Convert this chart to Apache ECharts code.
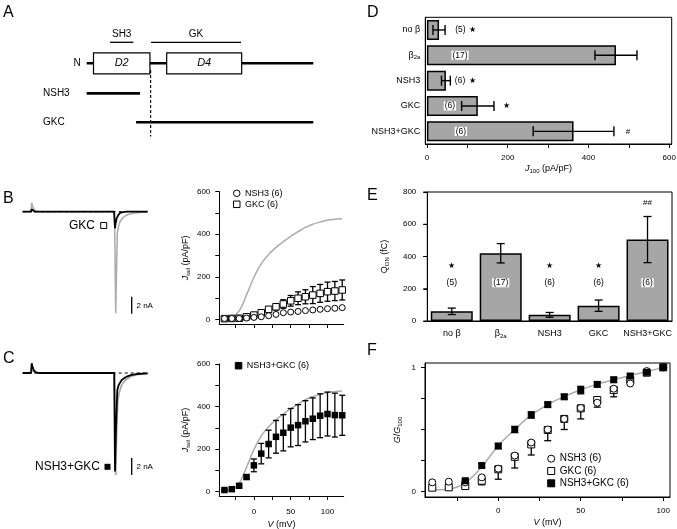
<!DOCTYPE html>
<html>
<head>
<meta charset="utf-8">
<script src="https://cdn.jsdelivr.net/npm/echarts@6.0.0/dist/echarts.min.js"></script>
<style>
html,body{margin:0;padding:0;background:#fff;}
#chart{width:677px;height:529px;}
</style>
</head>
<body>
<div id="chart"></div>
<script>
// ================= DATA =================
// Panel A: domain map (arbitrary sequence units, 0-100)
const domainNames = ['D2', 'D4'];
const domainStart = [3, 35.3];
const domainEnd = [27.9, 68.4];
const motifNames = ['SH3', 'GK'];
const motifStart = [10.3, 28.4];
const motifEnd = [20.6, 68.1];
const constructNames = ['NSH3', 'GKC'];
const constructStart = [0, 21.8];
const constructEnd = [23.5, 100];
const proteinLength = 100;
const cutSite = 28.2;

// Panels B, C: current traces (time in ms, current in nA)
const bGrayTime = [0, 8.3, 9, 9.8, 11, 13, 16, 91.8, 93, 94, 94.6, 95.8, 97.3, 99.5, 102.3, 106, 110.6, 117, 125];
const bGrayCurrent = [0, 0, 1.06, 0.7, 0.35, 0.1, 0, 0, -11.95, -6, -2.55, -1.7, -1.18, -0.8, -0.5, -0.3, -0.19, -0.1, -0.04];
const bBlackTime = [0, 8.3, 9, 10, 12, 91.4, 92.3, 93, 94, 95.5, 97.3, 100, 104, 125];
const bBlackCurrent = [0, 0, 0.3, 0.15, 0, 0, -1.95, -1.3, -0.78, -0.4, -0.15, -0.05, 0, 0];
const cGrayTime = [0, 8.3, 9, 10, 12, 91.8, 93, 94, 95, 96.5, 99, 102, 104, 108, 114, 125];
const cGrayCurrent = [0, 0, 0.4, 0.2, 0, 0, -12, -6.5, -3.4, -2.3, -1.4, -0.9, -0.7, -0.4, -0.2, -0.05];
const cBlackTime = [0, 8.3, 9, 9.8, 11, 13, 16, 91.5, 92.3, 93.2, 94, 94.6, 96, 99, 101.5, 104, 108, 114, 125];
const cBlackCurrent = [0, 0, 1.14, 0.75, 0.35, 0.1, 0, 0, -11.6, -7, -3.96, -2.0, -1.4, -0.82, -0.6, -0.43, -0.25, -0.12, -0.04];
const zeroTime = [0, 125.6];
const scaleBarTime = 109;
const scaleBarNA = [-10, -12];

// Panels B, C: tail current density vs voltage
const voltage = [-40, -30, -20, -10, 0, 10, 20, 30, 40, 50, 60, 70, 80, 90, 100, 110, 120];
const beta2aJtail = [5, 10, 40, 115, 198, 262, 305, 338, 365, 390, 412, 432, 447, 457, 466, 470, 473];
const nsh3Jtail = [4, 4, 4, 6, 9, 12, 17, 23, 31, 34, 37, 41, 44, 47, 50, 52, 55];
const gkcJtail = [3, 4, 5, 12, 20, 31, 47, 59, 72, 87, 99, 106, 114, 122, 130, 133, 138];
const gkcJtailErr = [1, 1, 2, 3, 5, 8, 12, 15, 20, 25, 30, 33, 40, 42, 45, 45, 47];
const nsh3gkcJtail = [8, 12, 28, 69, 124, 179, 224, 258, 277, 301, 313, 331, 343, 357, 365, 360, 359];
const nsh3gkcJtailErr = [3, 4, 6, 10, 30, 48, 65, 77, 85, 90, 96, 97, 98, 103, 103, 103, 94];

// Panel D: J100
const groups = ['no β', 'β2a', 'NSH3', 'GKC', 'NSH3+GKC'];
const j100Mean = [30, 468, 47, 126, 363];
const j100Err = [15, 52, 11, 40, 100];
const cellCounts = ['(5)', '(17)', '(6)', '(6)', '(6)'];
const dSignif = ['★', '', '★', '★', '#'];

// Panel E: Q_ON
const qonMean = [60, 420, 38, 95, 505];
const qonErr = [20, 60, 15, 35, 143];
const eSignif = ['★', '', '★', '★', '##'];

// Panel F: normalized conductance
const fVoltage = [-40, -30, -20, -10, 0, 10, 20, 30, 40, 50, 60, 70, 80, 90, 100];
const beta2aG = [0.015, 0.02, 0.07, 0.2, 0.37, 0.5, 0.615, 0.70, 0.765, 0.82, 0.865, 0.90, 0.935, 0.965, 1.0];
const nsh3G = [0.075, 0.08, 0.075, 0.115, 0.185, 0.29, 0.395, 0.50, 0.585, 0.673, 0.715, 0.828, 0.87, 0.97, 1.0];
const gkcG = [0.032, 0.035, 0.045, 0.088, 0.18, 0.28, 0.38, 0.496, 0.585, 0.67, 0.737, 0.817, 0.898, 0.957, 1.0];
const gkcGErr = [0.01, 0.01, 0.01, 0.033, 0.08, 0.09, 0.085, 0.086, 0.085, 0.085, 0.057, 0.054, 0.02, 0.01, 0];
const nsh3gkcG = [null, null, 0.088, 0.21, 0.367, 0.50, 0.617, 0.70, 0.763, 0.817, 0.863, 0.90, 0.93, 0.96, 1.0];
const nsh3gkcGErr = [0, 0, 0.01, 0.015, 0.02, 0.025, 0.025, 0.02, 0.02, 0.03, 0.02, 0.02, 0.02, 0.01, 0];

// Tick values
const ivTicksX = [-25, 0, 25, 50, 75, 100];
const ivLabelsX = [0, 50, 100];
const jTicksY = [0, 100, 200, 300, 400, 500, 600];
const jLabelsY = [0, 200, 400, 600];
const dTicksX = [0, 100, 200, 300, 400, 500, 600];
const dLabelsX = [0, 200, 400, 600];
const eTickStep = 200;
const eMax = 800;
const eLabelsY = [0, 200, 400, 600, 800];
const fTicksY = [0, 0.25, 0.5, 0.75, 1];
const fLabelsY = [0, 1];

// ================= STYLE =================
const FONT = '"Liberation Sans", Arial, Helvetica, sans-serif';
const BAR_GRAY = '#a6a6a6';
const CURVE_GRAY = '#ababab';
const RICH = {
  i: {fontStyle: 'italic', fontSize: 9, fontFamily: FONT, color: '#000', lineHeight: 11},
  n: {fontSize: 9, fontFamily: FONT, color: '#000', lineHeight: 11},
  s: {fontSize: 6, fontFamily: FONT, color: '#000', lineHeight: 5, verticalAlign: 'bottom'}
};
const zip = (a, b) => a.map((v, i) => [v, b[i]]);

const chart = echarts.init(document.getElementById('chart'), null, {renderer: 'canvas'});

function grid(left, top, width, height, box) {
  const g = {left, top, width, height, containLabel: false, outerBoundsMode: 'none'};
  if (box) { g.show = true; g.borderColor = '#000'; g.borderWidth = 1; g.backgroundColor = 'transparent'; }
  return g;
}
function hiddenAxis(gi, min, max, inverse) {
  return {type: 'value', gridIndex: gi, min, max, show: false, inverse: !!inverse, splitLine: {show: false}};
}
function valueAxis(gi, min, max, ticks, labels, o) {
  o = o || {};
  return {
    type: 'value', gridIndex: gi, min, max, position: o.position,
    name: o.name || '', nameLocation: 'middle', nameGap: o.nameGap || 20, nameMoveOverlap: false,
    nameTextStyle: {fontSize: 9, fontFamily: FONT, color: '#000', rich: RICH},
    axisLine: {show: true, onZero: false, lineStyle: {color: '#000', width: 1}},
    axisTick: {show: true, length: 4, customValues: ticks.slice(), lineStyle: {color: '#000', width: 1}},
    axisLabel: {show: labels.length > 0, customValues: labels.slice(), hideOverlap: false, showMinLabel: true, showMaxLabel: true,
                color: '#000', fontSize: 8, fontFamily: FONT, margin: o.margin || 8},
    splitLine: {show: false}
  };
}
function categoryAxis(gi, o) {
  return {
    type: 'category', gridIndex: gi, data: groups, inverse: !!o.inverse, position: o.position,
    axisLine: {show: true, onZero: false, lineStyle: {color: '#000', width: 1}},
    axisTick: {show: false},
    axisLabel: {
      interval: 0, hideOverlap: false,
      color: '#000', fontSize: 9, fontFamily: FONT, margin: o.margin, rich: RICH,
      formatter: v => v === 'β2a' ? '{n|β}{s|2a}' : '{n|' + v + '}'
    },
    splitLine: {show: false}
  };
}

function vErr(ai, xs, ys, es, capHalf, lowerOnly, z) {
  const data = [];
  xs.forEach((x, i) => { if (ys[i] != null) data.push([x, ys[i], es[i]]); });
  return {
    type: 'custom', xAxisIndex: ai, yAxisIndex: ai, z: z || 2, silent: true,
    encode: {x: 0, y: 1}, data,
    renderItem: (p, api) => {
      const x = api.value(0), y = api.value(1), e = api.value(2);
      const lo = api.coord([x, y - e]);
      const hi = api.coord([x, lowerOnly ? y : y + e]);
      const st = {stroke: '#000', lineWidth: 1.3};
      const ch = [
        {type: 'line', shape: {x1: lo[0], y1: lo[1], x2: hi[0], y2: hi[1]}, style: st},
        {type: 'line', shape: {x1: lo[0] - capHalf, y1: lo[1], x2: lo[0] + capHalf, y2: lo[1]}, style: st}
      ];
      if (!lowerOnly) ch.push({type: 'line', shape: {x1: hi[0] - capHalf, y1: hi[1], x2: hi[0] + capHalf, y2: hi[1]}, style: st});
      return {type: 'group', children: ch};
    }
  };
}
function hErr(ai, means, errs, capHalf) {
  return {
    type: 'custom', xAxisIndex: ai, yAxisIndex: ai, z: 3, silent: true,
    encode: {x: 0, y: 1}, data: means.map((m, i) => [m, i, errs[i]]),
    renderItem: (p, api) => {
      const m = api.value(0), c = api.value(1), e = api.value(2);
      const lo = api.coord([m - e, c]), hi = api.coord([m + e, c]);
      const st = {stroke: '#000', lineWidth: 1.4};
      return {type: 'group', children: [
        {type: 'line', shape: {x1: lo[0], y1: lo[1], x2: hi[0], y2: hi[1]}, style: st},
        {type: 'line', shape: {x1: lo[0], y1: lo[1] - capHalf, x2: lo[0], y2: lo[1] + capHalf}, style: st},
        {type: 'line', shape: {x1: hi[0], y1: hi[1] - capHalf, x2: hi[0], y2: hi[1] + capHalf}, style: st}
      ]};
    }
  };
}
// annotation text placed in data space
function textLayer(ai, pts, texts, fontSize, boxed) {
  return {
    type: 'custom', xAxisIndex: ai, yAxisIndex: ai, z: 5, silent: true,
    encode: {x: 0, y: 1}, data: pts,
    renderItem: (p, api) => {
      const t = texts[p.dataIndex];
      if (!t) return null;
      const c = api.coord([api.value(0), api.value(1)]);
      return {type: 'text', x: c[0], y: c[1], style: {
        text: t, fill: '#000', fontSize, fontFamily: FONT, align: 'center', verticalAlign: 'middle',
        textAlign: 'center', textVerticalAlign: 'middle',
        backgroundColor: boxed ? '#fff' : null, padding: boxed ? [0, 1] : 0
      }};
    }
  };
}

// Panel A renderer
const TRACK = {motif: 1, main: 2, NSH3: 3.43, GKC: 4.81, cutTop: 2.32, cutBottom: 5.49};
const aItems = [];
aItems.push({kind: 'backbone', s: 0, e: proteinLength});
domainNames.forEach((n, i) => aItems.push({kind: 'domain', s: domainStart[i], e: domainEnd[i], label: n}));
motifNames.forEach((n, i) => aItems.push({kind: 'motif', s: motifStart[i], e: motifEnd[i], label: n}));
constructNames.forEach((n, i) => aItems.push({kind: 'construct', s: constructStart[i], e: constructEnd[i], label: n}));
aItems.push({kind: 'cut', s: cutSite, e: cutSite});

function renderA(p, api) {
  const d = aItems[p.dataIndex];
  const txt = (x, y, text, align, size, italic) => ({type: 'text', x, y, style: {
    text, fill: '#000', fontSize: size, fontStyle: italic ? 'italic' : 'normal', fontFamily: FONT,
    align, verticalAlign: 'middle', textAlign: align, textVerticalAlign: 'middle'}});
  if (d.kind === 'backbone') {
    const a = api.coord([d.s, TRACK.main]), b = api.coord([d.e, TRACK.main]);
    return {type: 'group', children: [
      {type: 'line', shape: {x1: a[0], y1: a[1], x2: b[0], y2: b[1]}, style: {stroke: '#000', lineWidth: 2.6}},
      txt(a[0] - 6, a[1], 'N', 'right', 10)
    ]};
  }
  if (d.kind === 'domain') {
    const a = api.coord([d.s, TRACK.main]), b = api.coord([d.e, TRACK.main]);
    return {type: 'group', children: [
      {type: 'rect', shape: {x: a[0], y: a[1] - 10.5, width: b[0] - a[0], height: 21}, style: {fill: '#fff', stroke: '#000', lineWidth: 1.2}},
      txt((a[0] + b[0]) / 2, a[1], d.label, 'center', 11, true)
    ]};
  }
  if (d.kind === 'motif') {
    const a = api.coord([d.s, TRACK.motif]), b = api.coord([d.e, TRACK.motif]);
    return {type: 'group', children: [
      {type: 'line', shape: {x1: a[0], y1: a[1], x2: b[0], y2: b[1]}, style: {stroke: '#000', lineWidth: 1.3}},
      txt((a[0] + b[0]) / 2, a[1] - 8, d.label, 'center', 10)
    ]};
  }
  if (d.kind === 'construct') {
    const a = api.coord([d.s, TRACK[d.label]]), b = api.coord([d.e, TRACK[d.label]]);
    const x0 = api.coord([0, 0])[0];
    return {type: 'group', children: [
      {type: 'line', shape: {x1: a[0], y1: a[1], x2: b[0], y2: b[1]}, style: {stroke: '#000', lineWidth: 2.6}},
      txt(x0 - 43.7, a[1], d.label, 'left', 10)
    ]};
  }
  if (d.kind === 'cut') {
    const a = api.coord([d.s, TRACK.cutTop]), b = api.coord([d.s, TRACK.cutBottom]);
    return {type: 'line', shape: {x1: a[0], y1: a[1], x2: b[0], y2: b[1]}, style: {stroke: '#000', lineWidth: 1.2, lineDash: [3, 2]}};
  }
  return null;
}

const traceLine = (ai, t, v, color, width, dash, z) => ({
  type: 'line', xAxisIndex: ai, yAxisIndex: ai, data: zip(t, v), symbol: 'none', silent: true, z: z || 2,
  lineStyle: {color, width, type: dash ? [3, 3] : 'solid'}
});
const legendStyle = {color: 'inherit', borderColor: 'inherit', borderWidth: 1};
const E_LEFT = 427.3;

const eYAxis = {
  type: 'value', gridIndex: 6, min: 0, max: eMax, interval: eTickStep, position: 'left',
  name: '{n|Q}{s|ON} (fC)', nameLocation: 'middle', nameGap: 37, nameMoveOverlap: false,
  nameTextStyle: {fontSize: 9, fontFamily: FONT, color: '#000', rich: RICH},
  axisLine: {show: true, onZero: false, lineStyle: {color: '#000', width: 1}},
  axisTick: {show: true, length: 4, lineStyle: {color: '#000', width: 1}},
  axisLabel: {show: false},
  splitLine: {show: false}
};

const baseGraphic = [
  ...[['A', 3, 4.5], ['B', 3, 190.5], ['C', 3, 350.5], ['D', 367, 4.5], ['E', 367, 187.5], ['F', 367, 342.5]].map(([t, x, y]) => ({
    type: 'text', x, y, silent: true,
    style: {text: t, fontSize: 16, fontFamily: FONT, fill: '#000', align: 'left', verticalAlign: 'top', textAlign: 'left', textVerticalAlign: 'top'}
  })),
  {type: 'text', x: 136.5, y: 305.5, silent: true, style: {text: '2 nA', fontSize: 8, fontFamily: FONT, fill: '#000', align: 'left', verticalAlign: 'middle', textAlign: 'left', textVerticalAlign: 'middle'}},
  {type: 'text', x: 136.5, y: 466.5, silent: true, style: {text: '2 nA', fontSize: 8, fontFamily: FONT, fill: '#000', align: 'left', verticalAlign: 'middle', textAlign: 'left', textVerticalAlign: 'middle'}},
  {type: 'text', x: 95, y: 225.5, silent: true, style: {text: 'GKC', fontSize: 12, fontFamily: FONT, fill: '#000', align: 'right', verticalAlign: 'middle', textAlign: 'right', textVerticalAlign: 'middle'}},
  {type: 'rect', silent: true, shape: {x: 100.7, y: 222.5, width: 6, height: 6}, style: {fill: '#fff', stroke: '#000', lineWidth: 1}},
  {type: 'text', x: 100, y: 466.8, silent: true, style: {text: 'NSH3+GKC', fontSize: 12, fontFamily: FONT, fill: '#000', align: 'right', verticalAlign: 'middle', textAlign: 'right', textVerticalAlign: 'middle'}},
  {type: 'rect', silent: true, shape: {x: 104.5, y: 463.8, width: 6, height: 6}, style: {fill: '#000'}}
];

const option = {
  animation: false,
  backgroundColor: '#fff',
  textStyle: {fontFamily: FONT},
  grid: [
    grid(86.7, 21.3, 226.6, 126),          // 0 A
    grid(22.7, 194.7, 125.6, 127.5),       // 1 B trace
    grid(219.3, 191.7, 124.4, 132.3),      // 2 B IV
    grid(22.7, 356, 125.6, 127.5),         // 3 C trace
    grid(219.3, 364, 124.4, 132),          // 4 C IV
    grid(425.3, 17.3, 246.4, 126.7, true), // 5 D
    grid(E_LEFT, 192, 244.7, 129, true),   // 6 E
    grid(425, 363, 245, 134, true)         // 7 F
  ],
  xAxis: [
    hiddenAxis(0, 0, proteinLength),
    hiddenAxis(1, 0, 125.6),
    valueAxis(2, -47, 122, ivTicksX, [], {position: 'bottom'}),
    hiddenAxis(3, 0, 125.6),
    valueAxis(4, -47, 122, ivTicksX, ivLabelsX, {position: 'bottom', margin: 12, name: '{i|V} (mV)', nameGap: 23}),
    valueAxis(5, -4, 606, dTicksX, dLabelsX, {position: 'bottom', margin: 10, name: '{i|J}{s|100} (pA/pF)', nameGap: 19}),
    categoryAxis(6, {position: 'bottom', margin: 7}),
    valueAxis(7, -44.4, 104.1, ivTicksX, ivLabelsX, {position: 'bottom', margin: 10, name: '{i|V} (mV)', nameGap: 20})
  ],
  yAxis: [
    hiddenAxis(0, 0, 6, true),
    hiddenAxis(1, -13, 2),
    valueAxis(2, -22, 600, jTicksY, jLabelsY, {position: 'left', margin: 9, name: '{i|J}{s|tail} (pA/pF)', nameGap: 28}),
    hiddenAxis(3, -13, 2),
    valueAxis(4, -20, 600, jTicksY, jLabelsY, {position: 'left', margin: 9, name: '{i|J}{s|tail} (pA/pF)', nameGap: 28}),
    categoryAxis(5, {inverse: true, position: 'left', margin: 5}),
    eYAxis,
    valueAxis(7, -0.043, 1.035, fTicksY, fLabelsY, {position: 'left', margin: 9, name: '{i|G}{n|/}{i|G}{s|100}', nameGap: 22})
  ],
  legend: [
    {left: 233, top: 187.8, orient: 'vertical', padding: 0, itemGap: 0, itemWidth: 6.5, itemHeight: 6.5, selectedMode: false,
     itemStyle: legendStyle,
     textStyle: {fontSize: 9, fontFamily: FONT, color: '#000', lineHeight: 11},
     data: [{name: 'NSH3 (6)', icon: 'circle'}, {name: 'GKC (6)', icon: 'rect'}]},
    {left: 234.8, top: 360.2, orient: 'vertical', padding: 0, itemGap: 0, itemWidth: 6.5, itemHeight: 6.5, selectedMode: false,
     itemStyle: legendStyle,
     textStyle: {fontSize: 9, fontFamily: FONT, color: '#000', lineHeight: 11},
     data: [{name: 'NSH3+GKC (6)', icon: 'rect'}]},
    {left: 547.2, top: 452.7, orient: 'vertical', padding: 0, itemGap: 0.3, itemWidth: 7, itemHeight: 7, selectedMode: false,
     itemStyle: legendStyle,
     textStyle: {fontSize: 10, fontFamily: FONT, color: '#000', lineHeight: 12},
     data: [{name: 'NSH3 (6)', icon: 'circle'}, {name: 'GKC (6)', icon: 'rect'}, {name: 'NSH3+GKC (6)', icon: 'rect'}]}
  ],
  series: [
    // ---- A ----
    {type: 'custom', xAxisIndex: 0, yAxisIndex: 0, silent: true, encode: {x: 0, y: 1},
     data: aItems.map(d => [d.s, TRACK.main]), renderItem: renderA},
    // ---- B traces ----
    traceLine(1, bGrayTime, bGrayCurrent, CURVE_GRAY, 1.5, false, 2),
    traceLine(1, bBlackTime, bBlackCurrent, '#000', 1.8, false, 3),
    traceLine(1, zeroTime, [0, 0], '#000', 1, true, 4),
    traceLine(1, [scaleBarTime, scaleBarTime], scaleBarNA, '#000', 1.3, false, 4),
    // ---- C traces ----
    traceLine(3, cGrayTime, cGrayCurrent, CURVE_GRAY, 1.8, false, 2),
    traceLine(3, cBlackTime, cBlackCurrent, '#000', 1.8, false, 3),
    traceLine(3, zeroTime, [0, 0], '#000', 1, true, 4),
    traceLine(3, [scaleBarTime, scaleBarTime], scaleBarNA, '#000', 1.3, false, 4),
    // ---- B IV ----
    {type: 'line', name: 'β2a', xAxisIndex: 2, yAxisIndex: 2, data: zip(voltage, beta2aJtail), smooth: 0.35,
     symbol: 'none', silent: true, lineStyle: {color: CURVE_GRAY, width: 1.5}, z: 1},
    vErr(2, voltage, gkcJtail, gkcJtailErr, 3, false, 2),
    {type: 'scatter', name: 'GKC (6)', xAxisIndex: 2, yAxisIndex: 2, data: zip(voltage, gkcJtail), symbol: 'rect',
     symbolSize: 6.5, itemStyle: {color: '#fff', borderColor: '#000', borderWidth: 1, opacity: 1}, z: 3, silent: true},
    {type: 'scatter', name: 'NSH3 (6)', xAxisIndex: 2, yAxisIndex: 2, data: zip(voltage, nsh3Jtail), symbol: 'circle',
     symbolSize: 6, itemStyle: {color: '#fff', borderColor: '#000', borderWidth: 1, opacity: 1}, z: 4, silent: true},
    // ---- C IV ----
    {type: 'line', name: 'β2a', xAxisIndex: 4, yAxisIndex: 4, data: zip(voltage, beta2aJtail), smooth: 0.35,
     symbol: 'none', silent: true, lineStyle: {color: CURVE_GRAY, width: 1.5}, z: 1},
    vErr(4, voltage, nsh3gkcJtail, nsh3gkcJtailErr, 3, false, 2),
    {type: 'scatter', name: 'NSH3+GKC (6)', xAxisIndex: 4, yAxisIndex: 4, data: zip(voltage, nsh3gkcJtail), symbol: 'rect',
     symbolSize: 6.5, itemStyle: {color: '#000', borderColor: '#000', borderWidth: 0, opacity: 1}, z: 3, silent: true},
    // ---- D ----
    {type: 'bar', xAxisIndex: 5, yAxisIndex: 5, data: j100Mean, barWidth: 20, silent: true,
     itemStyle: {color: BAR_GRAY, borderColor: '#000', borderWidth: 1.5}, z: 2},
    hErr(5, j100Mean, j100Err, 5),
    textLayer(5, [[83, 0], [82, 1], [82, 2], [57, 3], [84, 4]], cellCounts, 8.5, true),
    textLayer(5, [[114, 0], [0, 1], [114, 2], [198, 3], [498, 4]], dSignif, 8, false),
    // ---- E ----
    {type: 'bar', xAxisIndex: 6, yAxisIndex: 6, data: qonMean, barWidth: 42, silent: true,
     itemStyle: {color: BAR_GRAY, borderColor: '#000', borderWidth: 1.5}, z: 2},
    vErr(6, [0, 1, 2, 3, 4], qonMean, qonErr, 4, false, 3),
    textLayer(6, [[0, 237], [1, 237], [2, 237], [3, 237], [4, 237]], cellCounts, 8.5, true),
    textLayer(6, [[0, 340], [1, 0], [2, 340], [3, 340], [4, 733]], eSignif, 8, false),
    // ---- F ----
    {type: 'line', name: 'β2a', xAxisIndex: 7, yAxisIndex: 7, data: zip(fVoltage, beta2aG), smooth: 0.35,
     symbol: 'none', silent: true, lineStyle: {color: CURVE_GRAY, width: 1.5}, z: 1},
    vErr(7, fVoltage, gkcG, gkcGErr, 3.5, true, 2),
    vErr(7, fVoltage, nsh3gkcG, nsh3gkcGErr, 3.5, false, 2),
    {type: 'scatter', name: 'GKC (6)', xAxisIndex: 7, yAxisIndex: 7, data: zip(fVoltage, gkcG), symbol: 'rect',
     symbolSize: 7, itemStyle: {color: '#fff', borderColor: '#000', borderWidth: 1, opacity: 1}, z: 3, silent: true},
    {type: 'scatter', name: 'NSH3 (6)', xAxisIndex: 7, yAxisIndex: 7, data: zip(fVoltage, nsh3G), symbol: 'circle',
     symbolSize: 7, itemStyle: {color: '#fff', borderColor: '#000', borderWidth: 1, opacity: 1}, z: 4, silent: true},
    {type: 'scatter', name: 'NSH3+GKC (6)', xAxisIndex: 7, yAxisIndex: 7,
     data: fVoltage.map((v, i) => [v, nsh3gkcG[i]]).filter(d => d[1] != null), symbol: 'rect',
     symbolSize: 7, itemStyle: {color: '#000', opacity: 1}, z: 5, silent: true}
  ],
  graphic: baseGraphic
};
chart.setOption(option);

// Q_ON axis tick marks and labels, positioned through the axis scale
const eAxisExtra = [];
eLabelsY.forEach(v => {
  let py;
  try { py = chart.convertToPixel({xAxisIndex: 6, yAxisIndex: 6}, [0, v])[1]; } catch (e) { py = NaN; }
  if (!isFinite(py)) py = 192 + (eMax - v) * 129 / eMax;
  eAxisExtra.push({type: 'line', z: 100, silent: true, shape: {x1: E_LEFT - 4, y1: py, x2: E_LEFT, y2: py}, style: {stroke: '#000', lineWidth: 1}});
  eAxisExtra.push({type: 'text', z: 100, silent: true, x: E_LEFT - 11, y: py, style: {text: String(v), fill: '#000', fontSize: 8, fontFamily: FONT,
    align: 'right', verticalAlign: 'middle', textAlign: 'right', textVerticalAlign: 'middle'}});
});
chart.setOption({graphic: baseGraphic.concat(eAxisExtra)});
</script>
</body>
</html>
